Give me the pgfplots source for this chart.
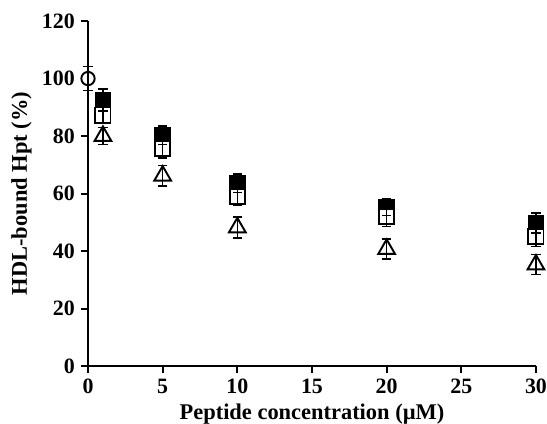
\documentclass[border=0pt]{standalone}
\usepackage{fontspec}
\setmainfont{Liberation Serif}
\usepackage{pgfplots}
\pgfplotsset{compat=1.18}
\begin{document}
\begin{tikzpicture}
\begin{axis}[
  name=ax, scale only axis, width=255.5pt, height=196.8pt,
  set layers,
  xmin=0, xmax=30, ymin=0, ymax=120,
  xtick={0,5,...,30}, ytick={0,20,...,120},
  axis x line*=bottom, axis y line*=left,
  axis line style={line width=1.3pt,-},
  tick style={line width=1.1pt,black}, tick align=outside, major tick length=4pt,
  clip=false,
  font=\fontsize{12.5}{15}\selectfont\bfseries,
  /pgf/number format/assume math mode=true,
  ticklabel style={font=\fontsize{12.5}{15}\selectfont\bfseries},
  xlabel={Peptide concentration (µM)}, ylabel={HDL-bound Hpt (\%)},
  xlabel style={yshift=1pt,font=\fontsize{12.8}{15}\selectfont\bfseries},
  ylabel style={yshift=-1pt,font=\fontsize{12.8}{15}\selectfont\bfseries},
  error bars/y explicit,
  error bars/error bar style={line width=0.9pt,black},
  error bars/error mark options={rotate=90,mark size=2.6pt,line width=0.9pt},
]
% marks: filled squares, open squares, triangles, control circle
\addplot[only marks, mark=square*, mark size=4.3pt, mark options={fill=black,draw=black,line width=0.9pt}]
  table {
x y
1 92.5
5 80.3
10 63.6
20 55.3
30 49.7
};
\addplot[only marks, mark=square*, mark size=4.3pt, mark options={fill=white,draw=black,line width=1.1pt}]
  table {
x y
1 87.3
5 75.8
10 59.0
20 52.0
30 45.0
};
\addplot[only marks, mark=triangle*, mark size=5.5pt, mark options={fill=white,draw=black,line width=1.1pt}]
  table {
x y
1 80.0
5 66.2
10 48.2
20 40.7
30 35.3
};
\addplot[only marks, mark=*, mark size=3.8pt, mark options={fill=white,draw=black,line width=1.1pt}]
  table {
x y
0 100
};
% error bars drawn over the marks
\addplot[on layer=axis foreground, draw=none, mark=none, error bars/y dir=both] table[y error=e] {
x y e
1 92.5 3.8
5 80.3 3.2
10 63.6 3.2
20 55.3 3.0
30 49.7 3.5
};
\addplot[on layer=axis foreground, draw=none, mark=none, error bars/y dir=both] table[y error=e] {
x y e
1 87.3 3.0
5 75.8 3.5
10 59.0 3.0
20 52.0 3.5
30 45.0 3.4
};
\addplot[on layer=axis foreground, draw=none, mark=none, error bars/y dir=both] table[y error=e] {
x y e
1 80.0 3.0
5 66.2 3.6
10 48.2 3.6
20 40.7 3.5
30 35.3 3.5
};
\addplot[on layer=axis foreground, draw=none, mark=none, error bars/y dir=both] table[y error=e] {
x y e
0 100 4.2
};
\end{axis}
\pgfresetboundingbox
\path[use as bounding box] ([xshift=-50.2pt,yshift=-32.5pt]ax.south west) rectangle ([xshift=6.3pt,yshift=12pt]ax.north east);
\end{tikzpicture}
\end{document}
